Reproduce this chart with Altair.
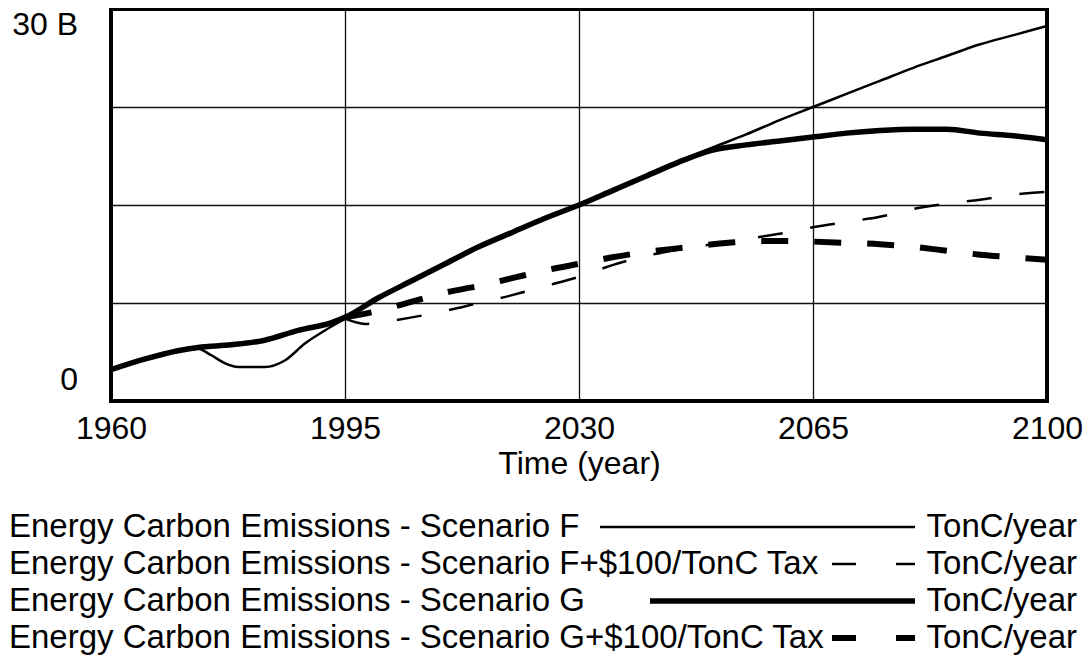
import altair as alt
import pandas as pd

# ---------------- data (billions of TonC/year) ----------------
YEARS_F = [1960, 1965, 1970, 1973, 1975, 1977, 1979, 1983, 1986, 1989, 1992,
           1995, 2000, 2005, 2010, 2015, 2020, 2025, 2030, 2035, 2040, 2045,
           2050, 2055, 2060, 2065, 2070, 2075, 2080, 2085, 2090, 2095, 2100]
VALUES_F = [2.4, 3.2, 3.85, 4.0, 3.5, 2.9, 2.6, 2.6, 3.1, 4.4, 5.4,
            6.3, 7.9, 9.2, 10.5, 11.8, 12.9, 14.0, 15.0, 16.1, 17.2, 18.35,
            19.4, 20.4, 21.5, 22.5, 23.5, 24.5, 25.5, 26.4, 27.3, 28.0, 28.7]

YEARS_G = [1960, 1965, 1970, 1973, 1978, 1983, 1988, 1993,
           1995, 2000, 2005, 2010, 2015, 2020, 2025, 2030, 2035, 2040, 2045,
           2050, 2055, 2060, 2065, 2070, 2075, 2080, 2085, 2090, 2095, 2100]
VALUES_G = [2.4, 3.2, 3.85, 4.1, 4.3, 4.65, 5.4, 6.0,
            6.4, 7.9, 9.2, 10.5, 11.8, 12.9, 14.0, 15.0, 16.1, 17.2, 18.3,
            19.2, 19.6, 19.9, 20.2, 20.5, 20.7, 20.8, 20.8, 20.5, 20.3, 20.0]

YEARS_F_TAX = [1995, 1998, 2000, 2005, 2010, 2015, 2020, 2025, 2030, 2035, 2040,
               2045, 2050, 2055, 2060, 2065, 2070, 2075, 2080, 2085, 2090, 2095, 2100]
VALUES_F_TAX = [6.3, 5.9, 6.0, 6.4, 6.9, 7.5, 8.1, 8.8, 9.5, 10.4, 11.1,
                11.6, 12.0, 12.4, 12.8, 13.3, 13.7, 14.1, 14.7, 15.1, 15.4, 15.8, 16.0]

YEARS_G_TAX = [1995, 2000, 2005, 2010, 2015, 2020, 2025, 2030, 2035, 2040, 2045,
               2050, 2055, 2060, 2065, 2070, 2075, 2080, 2085, 2090, 2095, 2100]
VALUES_G_TAX = [6.4, 6.9, 7.6, 8.3, 8.8, 9.4, 10.0, 10.5, 11.0, 11.4, 11.7,
                12.0, 12.2, 12.25, 12.2, 12.1, 12.0, 11.8, 11.5, 11.2, 11.0, 10.8]

SERIES = [
    "Energy Carbon Emissions - Scenario F",
    "Energy Carbon Emissions - Scenario F+$100/TonC Tax",
    "Energy Carbon Emissions - Scenario G",
    "Energy Carbon Emissions - Scenario G+$100/TonC Tax",
]
UNIT = "TonC/year"
X_TICKS = [1960, 1995, 2030, 2065, 2100]
Y_GRID = [0, 7.5, 15, 22.5, 30]
Y_TICK_VALUES = [0, 30]
Y_TICK_LABELS = ["0", "30 B"]
X_TITLE = "Time (year)"

# ---------------- styling ----------------
FONT = "Liberation Sans"
W, H = 936, 392
LEG_TOP = 518      # centre of first legend row, px below plot top
LEG_STEP = 37

def frame(years, vals, name):
    return pd.DataFrame({"year": years, "value": vals, "series": name})

df_f = frame(YEARS_F, VALUES_F, SERIES[0])
df_ft = frame(YEARS_F_TAX, VALUES_F_TAX, SERIES[1])
df_g = frame(YEARS_G, VALUES_G, SERIES[2])
df_gt = frame(YEARS_G_TAX, VALUES_G_TAX, SERIES[3])

X_ENC = alt.X(
    "year:Q",
    scale=alt.Scale(domain=[1960, 2100], nice=False, zero=False),
    axis=alt.Axis(
        values=X_TICKS, format="d", title=X_TITLE, grid=True, ticks=False,
        domain=False, labelFont=FONT, labelFontSize=32, labelColor="black",
        labelPadding=12, labelFlush=False, labelOverlap=False,
        titleFont=FONT, titleFontSize=32, titleFontWeight="normal",
        titleColor="black", titlePadding=4,
        gridColor="#111111", gridWidth=1.3, gridOpacity=1,
    ),
)
Y_ENC = alt.Y(
    "value:Q",
    scale=alt.Scale(domain=[0, 30], nice=False, zero=True),
    axis=alt.Axis(
        values=Y_GRID, labels=False, ticks=False, domain=False, title=None,
        grid=True, gridColor="#111111", gridWidth=1.3, gridOpacity=1,
    ),
)

def series_line(df, width, dash=None):
    kw = dict(color="black", strokeWidth=width, interpolate="monotone", clip=True)
    if dash:
        kw["strokeDash"] = dash
    return alt.Chart(df).mark_line(**kw).encode(x=X_ENC, y=Y_ENC)

lines = [
    series_line(df_gt, 6, [27, 26]),
    series_line(df_g, 5.5),
    series_line(df_ft, 2.5, [25, 28]),
    series_line(df_f, 2.5),
]

ylab = pd.DataFrame({"value": Y_TICK_VALUES, "label": Y_TICK_LABELS})
ylab_top = alt.Chart(ylab).transform_filter("datum.value == 30").mark_text(
    align="right", baseline="middle", dy=16, font=FONT, fontSize=32, color="black"
).encode(x=alt.value(-33), y=Y_ENC, text="label:N")
ylab_bot = alt.Chart(ylab).transform_filter("datum.value == 0").mark_text(
    align="right", baseline="middle", dy=-21, font=FONT, fontSize=32, color="black"
).encode(x=alt.value(-33), y=Y_ENC, text="label:N")

one = pd.DataFrame({"k": [0]})

# thick plot frame
border = alt.Chart(one).mark_rect(fill=None, stroke="black", strokeWidth=4).encode(
    x=alt.value(0), x2=alt.value(W), y=alt.value(0), y2=alt.value(H)
)

# ---------------- legend (Vensim style rows) ----------------
leg = pd.DataFrame({"name": SERIES, "row": list(range(len(SERIES))), "unit": UNIT})
leg_names = alt.Chart(leg).transform_calculate(
    py=f"{LEG_TOP} + datum.row * {LEG_STEP}"
).mark_text(align="left", baseline="middle", font=FONT, fontSize=33, color="black").encode(
    x=alt.value(-102), y=alt.Y("py:Q", scale=None, axis=None), text="name:N"
)
leg_units = alt.Chart(leg).transform_calculate(
    py=f"{LEG_TOP} + datum.row * {LEG_STEP}"
).mark_text(align="right", baseline="middle", font=FONT, fontSize=33, color="black").encode(
    x=alt.value(966), y=alt.Y("py:Q", scale=None, axis=None), text="unit:N"
)

def sample(x0, x1, row, width, dash=None):
    kw = dict(color="black", strokeWidth=width)
    if dash:
        kw["strokeDash"] = dash
    return alt.Chart(one).mark_rule(**kw).encode(
        x=alt.value(x0), x2=alt.value(x1), y=alt.value(LEG_TOP + row * LEG_STEP)
    )

samples = [
    sample(489, 804, 0, 2.5),
    sample(721, 804, 1, 2.5, [24, 40]),
    sample(539, 804, 2, 5.5),
    sample(721, 804, 3, 6, [24, 40]),
]

chart = alt.layer(*lines, border, ylab_top, ylab_bot, leg_names, leg_units, *samples).properties(
    width=W, height=H,
    autosize=alt.AutoSizeParams(type="none"),
    padding={"left": 103, "top": 1, "right": 36, "bottom": 254},
).configure_view(stroke=None).configure(background="white")

chart.save("out.html", embed_options={"renderer": "svg", "actions": False})
